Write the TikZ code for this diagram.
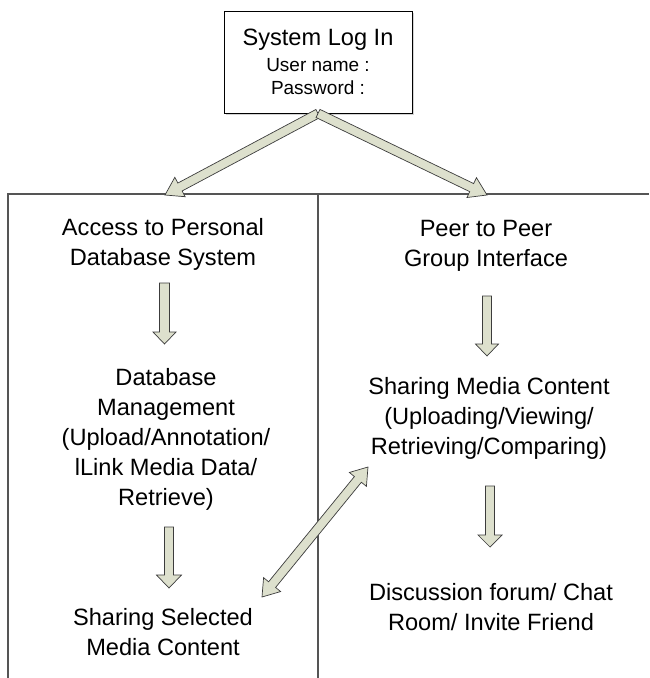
\documentclass[tikz,border=0pt]{standalone}
\usepackage{fontspec}
\setmainfont{Liberation Sans}
\usetikzlibrary{calc,shadows}
\definecolor{arrfill}{RGB}{221,224,205}
\definecolor{arrline}{RGB}{60,60,60}
\definecolor{framecol}{RGB}{85,85,85}
\newcommand{\blockarrow}[5]{%
  \coordinate (ba-h) at ($(#2)!#5!(#1)$);
  \draw[blockarr] ($(#1)!#3!90:(#2)$) -- ($(ba-h)!#3!90:(#2)$) -- ($(ba-h)!#4!90:(#2)$) -- (#2)
    -- ($(ba-h)!#4!-90:(#2)$) -- ($(ba-h)!#3!-90:(#2)$) -- ($(#1)!#3!-90:(#2)$) -- cycle;
}
\newcommand{\dblockarrow}[5]{%
  \coordinate (ba-h) at ($(#2)!#5!(#1)$);
  \coordinate (ba-t) at ($(#1)!#5!(#2)$);
  \draw[blockarr] (#1) -- ($(ba-t)!#4!90:(#2)$) -- ($(ba-t)!#3!90:(#2)$) -- ($(ba-h)!#3!90:(#2)$)
    -- ($(ba-h)!#4!90:(#2)$) -- (#2) -- ($(ba-h)!#4!-90:(#2)$) -- ($(ba-h)!#3!-90:(#2)$)
    -- ($(ba-t)!#3!-90:(#2)$) -- ($(ba-t)!#4!-90:(#2)$) -- cycle;
}
\begin{document}
\begin{tikzpicture}[x=1pt,y=-1pt,
  blockarr/.style={draw=arrline, line width=0.7pt, fill=arrfill, line join=miter},
  framel/.style={draw=framecol, line width=2pt},
  loginbox/.style={draw=black, line width=0.9pt, fill=white, minimum width=188pt, minimum height=102pt,
    drop shadow={opacity=0.35, shadow xshift=1.5pt, shadow yshift=-1.5pt}},
  txt/.style={align=center, anchor=base, inner sep=0pt, font=\fontsize{23.6}{30}\selectfont},
  small/.style={align=center, anchor=base, inner sep=0pt, font=\fontsize{19}{23.5}\selectfont}]
\useasboundingbox (0,0) rectangle (649,678);
% frame
\coordinate (fl) at (8,678);
\coordinate (ftl) at (8,194);
\coordinate (fr) at (649,194);
\coordinate (fm) at (318,194);
\coordinate (fmb) at (318,678);
\draw[framel] (fl) -- (ftl) -- (fr);
\draw[framel] (fm) -- (fmb);
% login box
\node[loginbox] (login) at (318,62) {};
\node[txt] (title) at (318,45.5) {System Log In};
\node[small] (fields) at (318,94.5) {User name :\\Password :};
% texts (anchor = baseline of last line)
\node[txt] (access) at (163,265) {Access to Personal\\Database System};
\node[txt] (dbm) at (166,505) {Database\\Management\\(Upload/Annotation/\\lLink Media Data/\\Retrieve)};
\node[txt] (share) at (163,655) {Sharing Selected\\Media Content};
\node[txt] (peer) at (486,266) {Peer to Peer\\Group Interface};
\node[txt] (smc) at (489,454) {Sharing Media Content\\(Uploading/Viewing/\\Retrieving/Comparing)};
\node[txt] (disc) at (491,630) {Discussion forum/ Chat\\Room/ Invite Friend};
% arrow end points
\coordinate (tipL) at (165,195);
\coordinate (tipR) at (487,195);
\coordinate (a1s) at (164.5,283); \coordinate (a1e) at (164.5,344);
\coordinate (a2s) at (169,527);   \coordinate (a2e) at (169,588);
\coordinate (a3s) at (487,296);   \coordinate (a3e) at (487,356);
\coordinate (a4s) at (490,486);   \coordinate (a4e) at (490,547);
\coordinate (d1) at (262,597);    \coordinate (d2) at (368,467);
% arrows
\blockarrow{login.south}{tipL}{4.5pt}{11pt}{17pt}
\blockarrow{login.south}{tipR}{4.5pt}{11pt}{17pt}
\blockarrow{a1s}{a1e}{5pt}{11.5pt}{12pt}
\blockarrow{a2s}{a2e}{4.5pt}{12.5pt}{13pt}
\blockarrow{a3s}{a3e}{4.5pt}{11.5pt}{12pt}
\blockarrow{a4s}{a4e}{4.5pt}{12pt}{12pt}
\dblockarrow{d1}{d2}{4.5pt}{11pt}{16pt}
\end{tikzpicture}
\end{document}
